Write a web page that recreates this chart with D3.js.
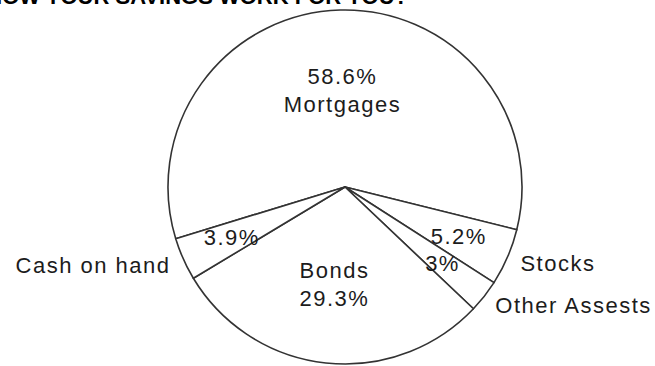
<!DOCTYPE html>
<html>
<head>
<meta charset="utf-8">
<script src="https://cdn.jsdelivr.net/npm/d3@7"></script>
<style>
  body { margin: 0; background: #fff; }
  text { font-family: "Liberation Sans", Arial, sans-serif; fill: #1c1c1c; }
</style>
</head>
<body>
<div id="chart"></div>
<script>
// savings breakdown
const categories = ["Mortgages", "Stocks", "Other Assests", "Bonds", "Cash on hand"];
const shares = [58.6, 5.2, 3, 29.3, 3.9];
const shareLabels = ["58.6%", "5.2%", "3%", "29.3%", "3.9%"];
const title = "HOW YOUR SAVINGS WORK FOR YOU?";

const width = 655, height = 366;
const cx = 345, cy = 187, r = 177;
const rot = -107 * Math.PI / 180;

let svg = d3.select("#chart").append("svg")
  .attr("width", width)
  .attr("height", height);

// title sits mostly above the top edge, like the cropped original
svg.append("text")
  .attr("x", 408)
  .attr("y", 4)
  .attr("text-anchor", "end")
  .style("font-weight", "bold")
  .style("font-size", "22px")
  .style("fill", "#000")
  .text(title);

let data = categories.map((c, i) => ({name: c, value: shares[i], label: shareLabels[i]}));

let pie = d3.pie()
  .sort(null)
  .value(d => d.value)
  .startAngle(rot)
  .endAngle(rot + 2 * Math.PI);

let arcs = pie(data);
let arc = d3.arc().innerRadius(0).outerRadius(r);
let inner = d3.arc().innerRadius(r * 0.7).outerRadius(r * 0.7);
let big = d3.arc().innerRadius(r * 0.55).outerRadius(r * 0.55);

let g = svg.append("g").attr("transform", `translate(${cx},${cy})`);

g.selectAll("path.slice")
  .data(arcs)
  .join("path")
  .attr("class", "slice")
  .attr("d", arc)
  .attr("fill", "#fff")
  .attr("stroke", "#333")
  .attr("stroke-width", 1.6)
  .attr("stroke-linejoin", "round");

const fs = "22px", ls = "1.5px";

arcs.forEach(a => {
  let d = a.data;
  if (d.value > 20) {
    // big slice: two lines inside
    let [x, y] = big.centroid(a);
    let lines = y < 0 ? [d.label, d.name] : [d.name, d.label];
    lines.forEach((t, k) => {
      g.append("text")
        .attr("x", x)
        .attr("y", y + (k - 0.5) * 28 + 8)
        .attr("text-anchor", "middle")
        .style("font-size", fs)
        .style("letter-spacing", ls)
        .text(t);
    });
  } else {
    let [x, y] = inner.centroid(a);
    g.append("text")
      .attr("x", x)
      .attr("y", y + 8)
      .attr("text-anchor", "middle")
      .style("font-size", fs)
      .style("letter-spacing", ls)
      .text(d.label);
    let mid = (a.startAngle + a.endAngle) / 2;
    let ox = Math.sin(mid) * (r + 14);
    let oy = -Math.cos(mid) * (r + 14);
    g.append("text")
      .attr("x", ox)
      .attr("y", oy + 8)
      .attr("text-anchor", ox > 0 ? "start" : "end")
      .style("font-size", fs)
      .style("letter-spacing", ls)
      .text(d.name);
  }
});
</script>
</body>
</html>
